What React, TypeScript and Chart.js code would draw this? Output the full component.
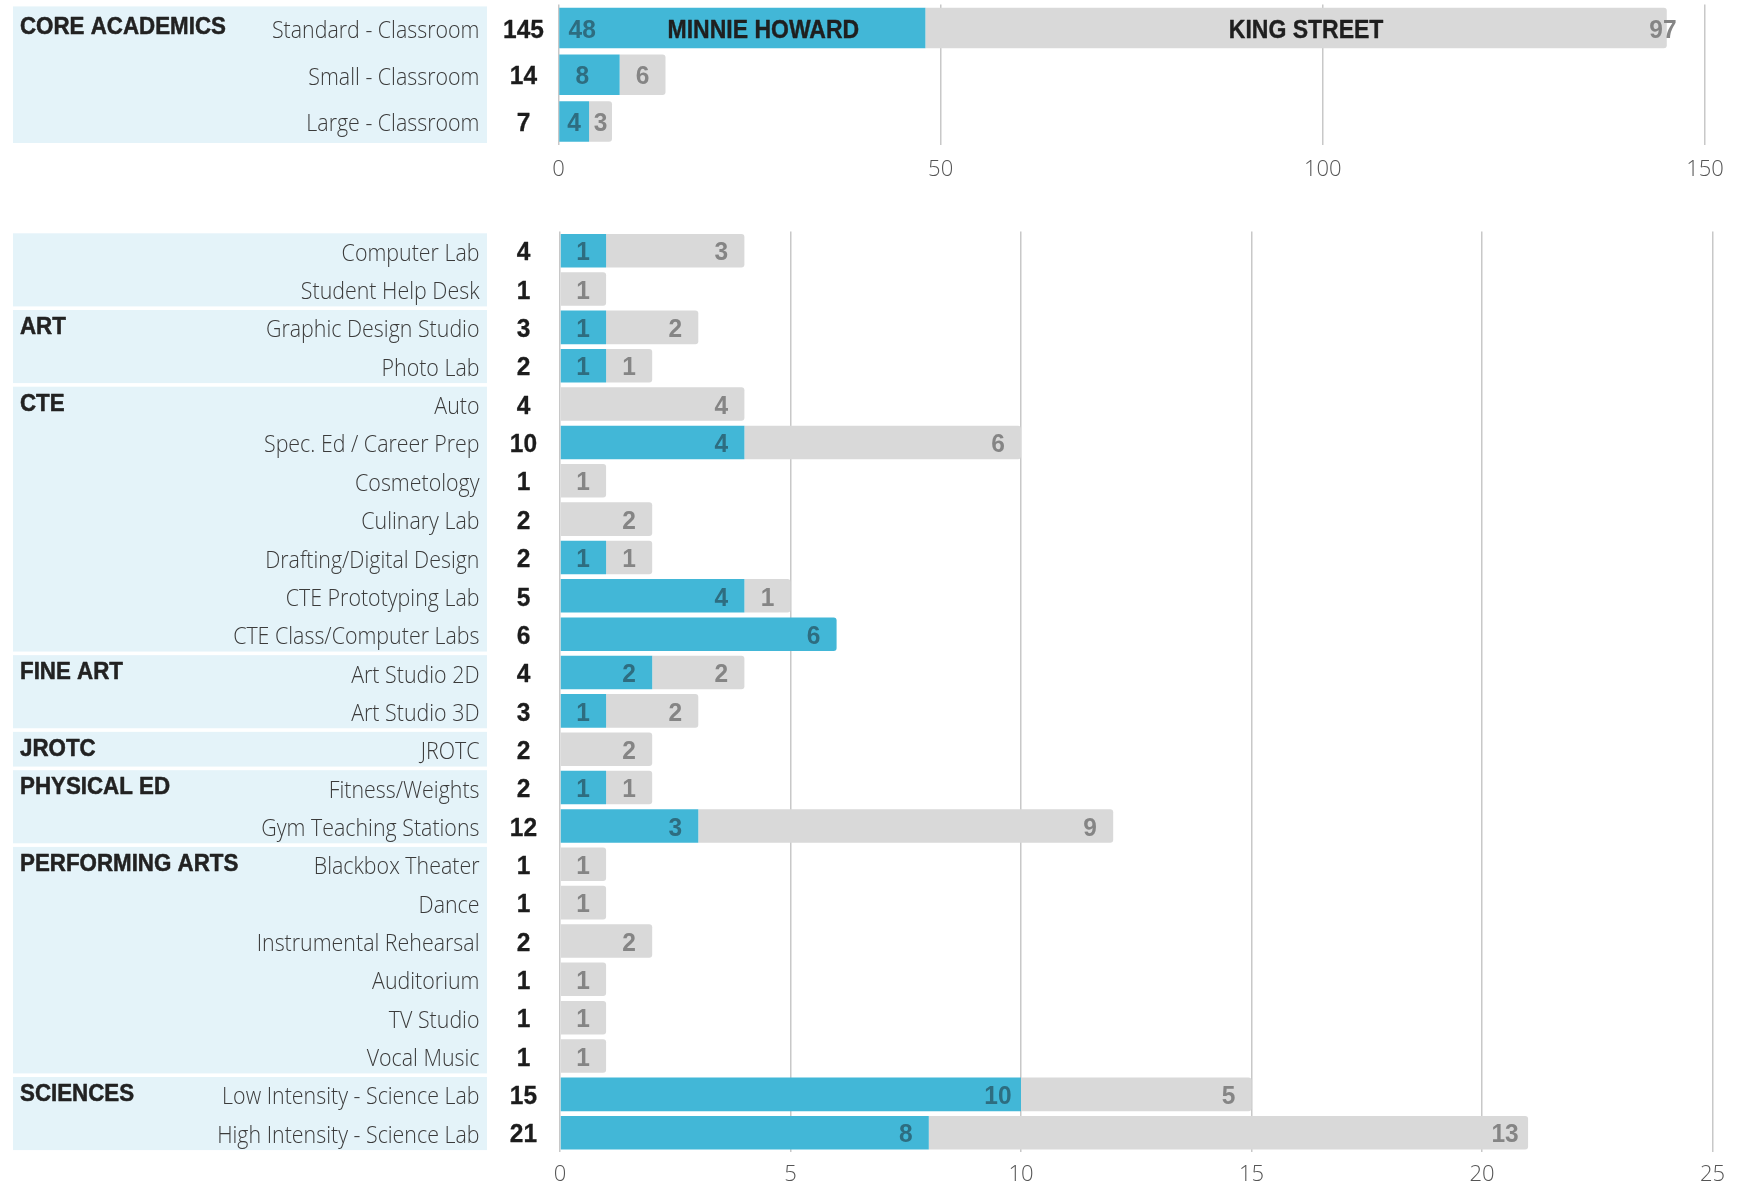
import React, { useEffect, useRef } from "react";
import { Chart, registerables } from "chart.js";

Chart.register(...registerables);

// ---------- DATA ----------
const seriesNames = ["MINNIE HOWARD", "KING STREET"];

const coreCategories = ["Standard - Classroom", "Small - Classroom", "Large - Classroom"];
const coreMinnie = [48, 8, 4];
const coreKing = [97, 6, 3];
const coreGroupNames = ["CORE ACADEMICS"];
const coreGroupSizes = [3];
const coreTicks = [0, 50, 100, 150];

const spaceCategories = [
  "Computer Lab",
  "Student Help Desk",
  "Graphic Design Studio",
  "Photo Lab",
  "Auto",
  "Spec. Ed / Career Prep",
  "Cosmetology",
  "Culinary Lab",
  "Drafting/Digital Design",
  "CTE Prototyping Lab",
  "CTE Class/Computer Labs",
  "Art Studio 2D",
  "Art Studio 3D",
  "JROTC",
  "Fitness/Weights",
  "Gym Teaching Stations",
  "Blackbox Theater",
  "Dance",
  "Instrumental Rehearsal",
  "Auditorium",
  "TV Studio",
  "Vocal Music",
  "Low Intensity - Science Lab",
  "High Intensity - Science Lab",
];
const spaceMinnie = [1, 0, 1, 1, 0, 4, 0, 0, 1, 4, 6, 2, 1, 0, 1, 3, 0, 0, 0, 0, 0, 0, 10, 8];
const spaceKing = [3, 1, 2, 1, 4, 6, 1, 2, 1, 1, 0, 2, 2, 2, 1, 9, 1, 1, 2, 1, 1, 1, 5, 13];
const spaceGroupNames = ["", "ART", "CTE", "FINE ART", "JROTC", "PHYSICAL ED", "PERFORMING ARTS", "SCIENCES"];
const spaceGroupSizes = [2, 2, 7, 2, 1, 2, 6, 2];
const spaceTicks = [0, 5, 10, 15, 20, 25];

// ---------- STYLE ----------
const BLUE = "#42b7d7";
const GRAY = "#d9d9d9";
const PANEL = "#e4f3f9";
const BLUE_LABEL = "#2e6d80";
const GRAY_LABEL = "#858585";
const BOLD_FAMILY = "'Liberation Sans', Arial, sans-serif";
const LIGHT_FAMILY = "'Open Sans', 'Noto Sans', sans-serif";

function drawText(
  ctx: CanvasRenderingContext2D,
  text: string,
  x: number,
  y: number,
  font: string,
  color: string,
  align: "left" | "right" | "center",
  sx: number,
  stroke = 0
) {
  ctx.save();
  ctx.font = font;
  ctx.fillStyle = color;
  ctx.textBaseline = "middle";
  ctx.textAlign = "left";
  const w = ctx.measureText(text).width * sx;
  const left = align === "left" ? x : align === "right" ? x - w : x - w / 2;
  ctx.translate(left, y);
  ctx.scale(sx, 1);
  ctx.fillText(text, 0, 0);
  if (stroke > 0) {
    ctx.strokeStyle = color;
    ctx.lineWidth = stroke;
    ctx.lineJoin = "round";
    ctx.strokeText(text, 0, 0);
  }
  ctx.restore();
}

const sidePanelPlugin = {
  id: "sidePanel",
  beforeDraw(chart: any, _args: any, opts: any) {
    const { ctx } = chart;
    const y = chart.scales.y;
    const step = y.getPixelForValue(1) - y.getPixelForValue(0);
    let idx = 0;
    ctx.save();
    ctx.fillStyle = PANEL;
    opts.groupSizes.forEach((size: number) => {
      const top = y.getPixelForValue(idx) - step / 2 + 1.8;
      const bottom = y.getPixelForValue(idx + size - 1) + step / 2 - 1.8;
      ctx.fillRect(13, top, 487 - 13, bottom - top);
      idx += size;
    });
    ctx.restore();
  },
  afterDatasetsDraw(chart: any, _args: any, opts: any) {
    const { ctx } = chart;
    const y = chart.scales.y;
    const x = chart.scales.x;
    const labels: string[] = chart.data.labels;
    const ds = chart.data.datasets;

    // group labels
    let idx = 0;
    opts.groupNames.forEach((name: string, g: number) => {
      if (name) {
        drawText(ctx, name, 20, y.getPixelForValue(idx), `bold 23.5px ${BOLD_FAMILY}`, "#222222", "left", 0.95, 0.5);
      }
      idx += opts.groupSizes[g];
    });

    // category labels and totals
    labels.forEach((lab, i) => {
      const py = y.getPixelForValue(i);
      drawText(ctx, lab, 479.5, py + 3.5, `300 23px ${LIGHT_FAMILY}`, "#3b3b3b", "right", 0.93);
      const total = ds.reduce((s: number, d: any) => s + (d.data[i] || 0), 0);
      drawText(ctx, String(total), 523.5, py + 2.8, `bold 25px ${BOLD_FAMILY}`, "#1c1c1c", "center", 0.98, 0.3);
    });

    // bar value labels
    ds.forEach((d: any, di: number) => {
      const meta = chart.getDatasetMeta(di);
      d.data.forEach((v: number, i: number) => {
        if (!v) return;
        const el = meta.data[i];
        const start = Math.min(el.base, el.x);
        const end = Math.max(el.base, el.x);
        let endVal = 0;
        for (let k = 0; k <= di; k++) endVal += ds[k].data[i] || 0;
        let cx: number;
        if (opts.mode === "core") {
          if (di === 0) cx = Math.min(start + 23, (start + end) / 2);
          else cx = end - start > 100 ? x.getPixelForValue(endVal - 0.5) : (start + end) / 2;
        } else {
          cx = x.getPixelForValue(endVal - 0.5);
        }
        drawText(
          ctx,
          String(v),
          cx,
          el.y + 2.8,
          `bold 25px ${BOLD_FAMILY}`,
          di === 0 ? BLUE_LABEL : GRAY_LABEL,
          "center",
          0.98
        );
      });
    });

    // series names inside first row of the core chart
    if (opts.mode === "core") {
      const offsets = [21, 10];
      ds.forEach((d: any, di: number) => {
        const el = chart.getDatasetMeta(di).data[0];
        const cx = (el.base + el.x) / 2 + offsets[di];
        drawText(ctx, d.label, cx, el.y + 2.8, `bold 25px ${BOLD_FAMILY}`, "#1f1f1f", "center", 0.92, 0.4);
      });
    }
  },
};

function makeConfig(
  categories: string[],
  minnie: number[],
  king: number[],
  ticks: number[],
  groupNames: string[],
  groupSizes: number[],
  mode: string,
  padding: any,
  axisHeight: number,
  tickPadding: number,
  barPct: number
): any {
  return {
    type: "bar",
    data: {
      labels: categories,
      datasets: [
        {
          label: seriesNames[0],
          data: minnie,
          backgroundColor: BLUE,
          borderRadius: 3,
          barPercentage: barPct,
          categoryPercentage: 1,
        },
        {
          label: seriesNames[1],
          data: king,
          backgroundColor: GRAY,
          borderRadius: 3,
          barPercentage: barPct,
          categoryPercentage: 1,
        },
      ],
    },
    options: {
      indexAxis: "y",
      animation: false,
      responsive: false,
      maintainAspectRatio: false,
      layout: { padding },
      plugins: {
        legend: { display: false },
        tooltip: { enabled: false },
        sidePanel: { groupNames, groupSizes, mode },
      },
      scales: {
        x: {
          stacked: true,
          min: ticks[0],
          max: ticks[ticks.length - 1],
          afterBuildTicks: (s: any) => {
            s.ticks = ticks.map((v) => ({ value: v }));
          },
          afterFit: (s: any) => {
            s.height = axisHeight;
          },
          ticks: {
            font: { family: "'Open Sans', sans-serif", size: 22, weight: 300 },
            color: "#555555",
            padding: tickPadding,
          },
          grid: { color: "#c8c8c8", lineWidth: 1.5, drawTicks: false },
          border: { display: false },
        },
        y: { stacked: true, display: false },
      },
    },
    plugins: [sidePanelPlugin],
  };
}

export default function App() {
  const topRef = useRef<HTMLCanvasElement>(null);
  const botRef = useRef<HTMLCanvasElement>(null);

  useEffect(() => {
    const top = new Chart(
      topRef.current as HTMLCanvasElement,
      makeConfig(
        coreCategories,
        coreMinnie,
        coreKing,
        coreTicks,
        coreGroupNames,
        coreGroupSizes,
        "core",
        { left: 558.5, right: 50, top: 4.6, bottom: 0 },
        55.2,
        12,
        0.867
      )
    );
    const bot = new Chart(
      botRef.current as HTMLCanvasElement,
      makeConfig(
        spaceCategories,
        spaceMinnie,
        spaceKing,
        spaceTicks,
        spaceGroupNames,
        spaceGroupSizes,
        "space",
        { left: 560, right: 42.5, top: 31.5, bottom: 0 },
        34.1,
        10,
        0.876
      )
    );
    return () => {
      top.destroy();
      bot.destroy();
    };
  }, []);

  return (
    <div style={{ position: "absolute", left: 0, top: 0, width: 1755, height: 1186, background: "#ffffff" }}>
      <canvas ref={topRef} width={1755} height={200} style={{ position: "absolute", left: 0, top: 0 }} />
      <canvas ref={botRef} width={1755} height={986} style={{ position: "absolute", left: 0, top: 200 }} />
    </div>
  );
}
